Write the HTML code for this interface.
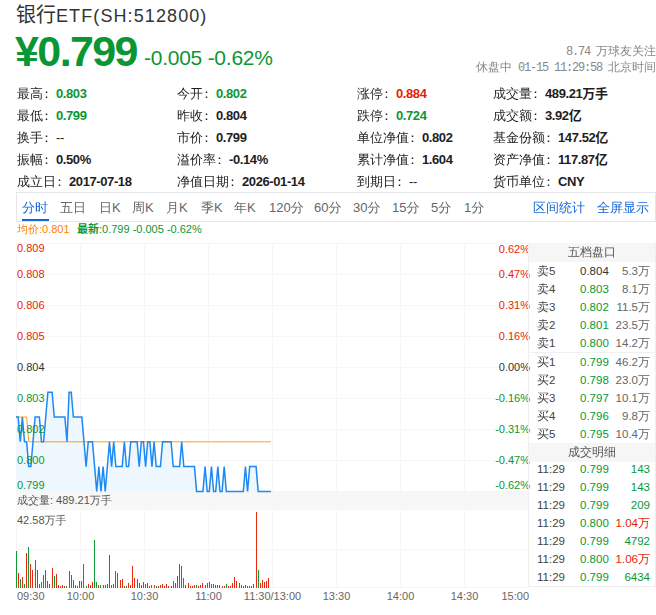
<!DOCTYPE html>
<html lang="zh-CN">
<head>
<meta charset="utf-8">
<title>银行ETF(SH:512800)</title>
<style>
*{margin:0;padding:0;box-sizing:border-box}
html,body{width:656px;height:615px;overflow:hidden;background:#fff}
body{position:relative;font-family:"Liberation Sans","WenQuanYi Zen Hei",sans-serif;color:#333;font-size:12px}
.a{position:absolute;white-space:nowrap;line-height:1}
.title{left:16px;top:5px;font-size:20px;color:#333;font-family:"Liberation Sans","Noto Sans CJK SC",sans-serif}
.price{left:15px;top:30px;font-size:43px;font-weight:bold;color:#0b9634;letter-spacing:-1.6px}
.chg{left:144px;top:47px;font-size:21px;color:#0b9634;letter-spacing:-0.25px}
.fol{right:0px;top:45px;font-size:12px;color:#888}
.st{right:0px;top:61px;font-size:12px;color:#888}
.mono{font-family:"Liberation Mono","WenQuanYi Zen Hei",monospace;font-size:12px;letter-spacing:-1.2px}
.g{color:#0b9634}.r{color:#e61e05}
.row{font-size:13px;color:#1e1e1e}
.row i{font-style:normal;position:relative;left:-3px;font-weight:bold}
.row b{font-family:"Liberation Sans","Noto Sans CJK SC",sans-serif;font-weight:bold;font-size:13px;letter-spacing:-0.4px}
.tabs{left:16px;top:192px;width:640px;height:30px;border:1px solid #e4e6ea}
.tab{top:201px;font-size:13px;color:#666}
.tab.on{color:#1565d8}
.ul{left:22px;top:219px;width:27px;height:2px;background:#1565d8}
.lg{top:224px;font-size:11px}
.lg b{font-family:"Liberation Sans","Noto Sans CJK SC",sans-serif}
.pn{left:528px;top:243px;width:128px;height:344px;border-left:1px solid #efefef;border-right:1px solid #efefef;border-bottom:1px solid #ececec}
.ph{left:529px;width:126px;height:19px;background:#f6f6f6;color:#555;font-size:12px;text-align:center;line-height:19px}
.pr{left:530px;width:126px;height:18px;font-size:11.5px;color:#444}
.pr i{font-style:normal;font-size:12px}
.pr span{position:absolute;top:3px;line-height:12px}
.pr .l{left:7px}
.pr .p{left:50px}
.pr .v{right:6px;color:#666}
.pr .v.g{color:#0b9634}.pr .v.r{color:#e61e05}
</style>
</head>
<body>
<div class="a title">银行<span style="font-size:18px;letter-spacing:1.1px">ETF(SH:512800)</span></div>
<div class="a price">¥0.799</div>
<div class="a chg">-0.005 -0.62%</div>
<div class="a fol"><span class="mono">8.74 </span>万球友关注</div>
<div class="a st">休盘中<span class="mono"> 01-15 11:29:58 </span>北京时间</div>

<div class="a row" style="left:17px;top:87px">最高<i>：</i><b class="g">0.803</b></div>
<div class="a row" style="left:177px;top:87px">今开<i>：</i><b class="g">0.802</b></div>
<div class="a row" style="left:357px;top:87px">涨停<i>：</i><b class="r">0.884</b></div>
<div class="a row" style="left:493px;top:87px">成交量<i>：</i><b>489.21万手</b></div>

<div class="a row" style="left:17px;top:109px">最低<i>：</i><b class="g">0.799</b></div>
<div class="a row" style="left:177px;top:109px">昨收<i>：</i><b>0.804</b></div>
<div class="a row" style="left:357px;top:109px">跌停<i>：</i><b class="g">0.724</b></div>
<div class="a row" style="left:493px;top:109px">成交额<i>：</i><b>3.92亿</b></div>

<div class="a row" style="left:17px;top:131px">换手<i>：</i><b style="font-weight:normal">--</b></div>
<div class="a row" style="left:177px;top:131px">市价<i>：</i><b>0.799</b></div>
<div class="a row" style="left:357px;top:131px">单位净值<i>：</i><b>0.802</b></div>
<div class="a row" style="left:493px;top:131px">基金份额<i>：</i><b>147.52亿</b></div>

<div class="a row" style="left:17px;top:153px">振幅<i>：</i><b>0.50%</b></div>
<div class="a row" style="left:177px;top:153px">溢价率<i>：</i><b>-0.14%</b></div>
<div class="a row" style="left:357px;top:153px">累计净值<i>：</i><b>1.604</b></div>
<div class="a row" style="left:493px;top:153px">资产净值<i>：</i><b>117.87亿</b></div>

<div class="a row" style="left:17px;top:175px">成立日<i>：</i><b>2017-07-18</b></div>
<div class="a row" style="left:177px;top:175px">净值日期<i>：</i><b>2026-01-14</b></div>
<div class="a row" style="left:357px;top:175px">到期日<i>：</i><b style="font-weight:normal">--</b></div>
<div class="a row" style="left:493px;top:175px">货币单位<i>：</i><b>CNY</b></div>

<div class="a tabs"></div>
<div class="a tab on" style="left:22px">分时</div>
<div class="a tab" style="left:60px">五日</div>
<div class="a tab" style="left:99px">日K</div>
<div class="a tab" style="left:132px">周K</div>
<div class="a tab" style="left:166px">月K</div>
<div class="a tab" style="left:201px">季K</div>
<div class="a tab" style="left:234px">年K</div>
<div class="a tab" style="left:269px">120分</div>
<div class="a tab" style="left:314px">60分</div>
<div class="a tab" style="left:353px">30分</div>
<div class="a tab" style="left:392px">15分</div>
<div class="a tab" style="left:431px">5分</div>
<div class="a tab" style="left:464px">1分</div>
<div class="a tab on" style="left:533px">区间统计</div>
<div class="a tab on" style="left:597px">全屏显示</div>
<div class="a ul"></div>

<div class="a lg" style="left:17px;color:#ff8000">均价:0.801</div>
<div class="a lg g" style="left:77px"><b>最新</b>:0.799 -0.005 -0.62%</div>

<svg class="a" style="left:0;top:0" width="656" height="615" viewBox="0 0 656 615">
<g stroke="#f6f6f6" stroke-width="1" fill="none" shape-rendering="crispEdges">
<path d="M16,243.5H528M16,274.5H528M16,305.5H528M16,336.5H528M16,367.5H528M16,398.5H528M16,429.5H528M16,460.5H528"/>
<path d="M16.5,243V491M80.5,243V491M144.5,243V491M208.5,243V491M272.5,243V491M336.5,243V491M400.5,243V491M464.5,243V491"/>
<path d="M16,549.5H528M16,587.5H528"/>
<path d="M16.5,510V588M80.5,510V588M144.5,510V588M208.5,510V588M272.5,510V588M336.5,510V588M400.5,510V588M464.5,510V588"/>
</g>
<rect x="16" y="491" width="512" height="19" fill="#f7f7f7"/>
<path d="M16.00,491 L16.00,417.0 L18.12,417.0 L20.25,441.8 L22.37,417.0 L24.50,441.8 L26.62,441.8 L28.75,466.6 L30.87,466.6 L33.00,441.8 L35.12,417.0 L37.24,417.0 L39.37,417.0 L41.49,441.8 L43.62,441.8 L45.74,417.0 L47.87,392.2 L49.99,392.2 L52.12,392.2 L54.24,417.0 L56.37,417.0 L58.49,417.0 L60.61,417.0 L62.74,417.0 L64.86,417.0 L66.99,441.8 L69.11,392.2 L71.24,392.2 L73.36,417.0 L75.49,417.0 L77.61,417.0 L79.73,417.0 L81.86,417.0 L83.98,441.8 L86.11,466.6 L88.23,441.8 L90.36,441.8 L92.48,441.8 L94.61,466.6 L96.73,491.4 L98.85,466.6 L100.98,491.4 L103.10,466.6 L105.23,491.4 L107.35,466.6 L109.48,441.8 L111.60,466.6 L113.73,441.8 L115.85,466.6 L117.98,466.6 L120.10,466.6 L122.22,466.6 L124.35,441.8 L126.47,466.6 L128.60,466.6 L130.72,441.8 L132.85,441.8 L134.97,441.8 L137.10,441.8 L139.22,466.6 L141.34,441.8 L143.47,441.8 L145.59,466.6 L147.72,441.8 L149.84,441.8 L151.97,466.6 L154.09,441.8 L156.22,466.6 L158.34,466.6 L160.46,466.6 L162.59,441.8 L164.71,441.8 L166.84,441.8 L168.96,441.8 L171.09,441.8 L173.21,466.6 L175.34,466.6 L177.46,466.6 L179.59,466.6 L181.71,441.8 L183.83,466.6 L185.96,466.6 L188.08,466.6 L190.21,466.6 L192.33,466.6 L194.46,466.6 L196.58,491.4 L198.71,491.4 L200.83,491.4 L202.95,491.4 L205.08,466.6 L207.20,491.4 L209.33,491.4 L211.45,466.6 L213.58,491.4 L215.70,491.4 L217.83,466.6 L219.95,491.4 L222.07,491.4 L224.20,466.6 L226.32,491.4 L228.45,491.4 L230.57,491.4 L232.70,491.4 L234.82,491.4 L236.95,491.4 L239.07,491.4 L241.20,491.4 L243.32,491.4 L245.44,466.6 L247.57,491.4 L249.69,466.6 L251.82,466.6 L253.94,466.6 L256.07,466.6 L258.19,491.4 L260.32,491.4 L262.44,491.4 L264.56,491.4 L266.69,491.4 L268.81,491.4 L270.94,491.4 L270.94,491 Z" fill="#eef6fe"/>
<polyline points="16.00,417.0 18.12,417.0 20.25,417.0 22.37,417.0 24.50,417.0 26.62,417.0 28.75,441.8 30.87,441.8 33.00,441.8 35.12,441.8 37.24,441.8 39.37,441.8 41.49,441.8 43.62,441.8 45.74,441.8 47.87,441.8 49.99,441.8 52.12,441.8 54.24,441.8 56.37,441.8 58.49,441.8 60.61,441.8 62.74,441.8 64.86,441.8 66.99,441.8 69.11,441.8 71.24,441.8 73.36,441.8 75.49,441.8 77.61,441.8 79.73,441.8 81.86,441.8 83.98,441.8 86.11,441.8 88.23,441.8 90.36,441.8 92.48,441.8 94.61,441.8 96.73,441.8 98.85,441.8 100.98,441.8 103.10,441.8 105.23,441.8 107.35,441.8 109.48,441.8 111.60,441.8 113.73,441.8 115.85,441.8 117.98,441.8 120.10,441.8 122.22,441.8 124.35,441.8 126.47,441.8 128.60,441.8 130.72,441.8 132.85,441.8 134.97,441.8 137.10,441.8 139.22,441.8 141.34,441.8 143.47,441.8 145.59,441.8 147.72,441.8 149.84,441.8 151.97,441.8 154.09,441.8 156.22,441.8 158.34,441.8 160.46,441.8 162.59,441.8 164.71,441.8 166.84,441.8 168.96,441.8 171.09,441.8 173.21,441.8 175.34,441.8 177.46,441.8 179.59,441.8 181.71,441.8 183.83,441.8 185.96,441.8 188.08,441.8 190.21,441.8 192.33,441.8 194.46,441.8 196.58,441.8 198.71,441.8 200.83,441.8 202.95,441.8 205.08,441.8 207.20,441.8 209.33,441.8 211.45,441.8 213.58,441.8 215.70,441.8 217.83,441.8 219.95,441.8 222.07,441.8 224.20,441.8 226.32,441.8 228.45,441.8 230.57,441.8 232.70,441.8 234.82,441.8 236.95,441.8 239.07,441.8 241.20,441.8 243.32,441.8 245.44,441.8 247.57,441.8 249.69,441.8 251.82,441.8 253.94,441.8 256.07,441.8 258.19,441.8 260.32,441.8 262.44,441.8 264.56,441.8 266.69,441.8 268.81,441.8 270.94,441.8" fill="none" stroke="#ff9a10" stroke-width="1"/>
<polyline points="16.00,417.0 18.12,417.0 20.25,441.8 22.37,417.0 24.50,441.8 26.62,441.8 28.75,466.6 30.87,466.6 33.00,441.8 35.12,417.0 37.24,417.0 39.37,417.0 41.49,441.8 43.62,441.8 45.74,417.0 47.87,392.2 49.99,392.2 52.12,392.2 54.24,417.0 56.37,417.0 58.49,417.0 60.61,417.0 62.74,417.0 64.86,417.0 66.99,441.8 69.11,392.2 71.24,392.2 73.36,417.0 75.49,417.0 77.61,417.0 79.73,417.0 81.86,417.0 83.98,441.8 86.11,466.6 88.23,441.8 90.36,441.8 92.48,441.8 94.61,466.6 96.73,491.4 98.85,466.6 100.98,491.4 103.10,466.6 105.23,491.4 107.35,466.6 109.48,441.8 111.60,466.6 113.73,441.8 115.85,466.6 117.98,466.6 120.10,466.6 122.22,466.6 124.35,441.8 126.47,466.6 128.60,466.6 130.72,441.8 132.85,441.8 134.97,441.8 137.10,441.8 139.22,466.6 141.34,441.8 143.47,441.8 145.59,466.6 147.72,441.8 149.84,441.8 151.97,466.6 154.09,441.8 156.22,466.6 158.34,466.6 160.46,466.6 162.59,441.8 164.71,441.8 166.84,441.8 168.96,441.8 171.09,441.8 173.21,466.6 175.34,466.6 177.46,466.6 179.59,466.6 181.71,441.8 183.83,466.6 185.96,466.6 188.08,466.6 190.21,466.6 192.33,466.6 194.46,466.6 196.58,491.4 198.71,491.4 200.83,491.4 202.95,491.4 205.08,466.6 207.20,491.4 209.33,491.4 211.45,466.6 213.58,491.4 215.70,491.4 217.83,466.6 219.95,491.4 222.07,491.4 224.20,466.6 226.32,491.4 228.45,491.4 230.57,491.4 232.70,491.4 234.82,491.4 236.95,491.4 239.07,491.4 241.20,491.4 243.32,491.4 245.44,466.6 247.57,491.4 249.69,466.6 251.82,466.6 253.94,466.6 256.07,466.6 258.19,491.4 260.32,491.4 262.44,491.4 264.56,491.4 266.69,491.4 268.81,491.4 270.94,491.4" fill="none" stroke="#1d89f3" stroke-width="1.5" stroke-linejoin="miter"/>
<path d="M18.5,588v-15M22.5,588v-11M26.5,588v-35M30.5,588v-24M32.5,588v-18M35.5,588v-28M37.5,588v-18M39.5,588v-4M43.5,588v-13M45.5,588v-18M47.5,588v-7M49.5,588v-4M52.5,588v-20M56.5,588v-14M58.5,588v-3M60.5,588v-2M62.5,588v-3M64.5,588v-2M69.5,588v-17M71.5,588v-13M75.5,588v-3M77.5,588v-2M79.5,588v-7M81.5,588v-7M88.5,588v-4M90.5,588v-3M92.5,588v-6M98.5,588v-3M103.5,588v-3M107.5,588v-4M109.5,588v-33M113.5,588v-4M117.5,588v-15M120.5,588v-8M122.5,588v-9M124.5,588v-2M128.5,588v-5M130.5,588v-3M132.5,588v-22M134.5,588v-10M137.5,588v-9M141.5,588v-3M143.5,588v-6M147.5,588v-5M149.5,588v-2M154.5,588v-3M158.5,588v-2M160.5,588v-3M162.5,588v-4M164.5,588v-2M166.5,588v-4M168.5,588v-2M171.5,588v-2M175.5,588v-5M177.5,588v-12M179.5,588v-24M181.5,588v-22M185.5,588v-3M188.5,588v-5M190.5,588v-2M192.5,588v-2M194.5,588v-3M198.5,588v-2M200.5,588v-3M202.5,588v-5M205.5,588v-3M209.5,588v-6M211.5,588v-4M215.5,588v-3M217.5,588v-3M222.5,588v-2M224.5,588v-2M228.5,588v-2M230.5,588v-2M232.5,588v-5M234.5,588v-11M236.5,588v-7M239.5,588v-5M241.5,588v-3M243.5,588v-2M245.5,588v-3M249.5,588v-2M251.5,588v-2M253.5,588v-4M256.5,588v-76M260.5,588v-5M262.5,588v-8M264.5,588v-6M266.5,588v-7M268.5,588v-10" stroke="#e62a10" stroke-width="1" shape-rendering="crispEdges"/>
<path d="M16.5,588v-37M20.5,588v-9M24.5,588v-4M28.5,588v-41M41.5,588v-6M54.5,588v-12M66.5,588v-2M73.5,588v-8M83.5,588v-24M86.5,588v-2M94.5,588v-48M96.5,588v-6M100.5,588v-3M105.5,588v-3M111.5,588v-3M115.5,588v-17M126.5,588v-2M139.5,588v-5M145.5,588v-4M151.5,588v-3M156.5,588v-2M173.5,588v-7M183.5,588v-10M196.5,588v-3M207.5,588v-5M213.5,588v-4M219.5,588v-3M226.5,588v-4M247.5,588v-2M258.5,588v-18" stroke="#109a36" stroke-width="1" shape-rendering="crispEdges"/>
<g font-family="Liberation Sans, sans-serif" font-size="11">
<text x="17" y="252" fill="#e61e05">0.809</text>
<text x="17" y="278" fill="#e61e05">0.808</text>
<text x="17" y="309" fill="#e61e05">0.806</text>
<text x="17" y="340" fill="#e61e05">0.805</text>
<text x="17" y="371" fill="#333">0.804</text>
<text x="17" y="402" fill="#0b9634">0.803</text>
<text x="17" y="433" fill="#0b9634">0.802</text>
<text x="17" y="464" fill="#0b9634">0.800</text>
<text x="17" y="489" fill="#0b9634">0.799</text>
</g>
<g font-family="Liberation Sans, sans-serif" font-size="11" text-anchor="end">
<text x="530" y="253" fill="#e61e05">0.62%</text>
<text x="530" y="278" fill="#e61e05">0.47%</text>
<text x="530" y="309" fill="#e61e05">0.31%</text>
<text x="530" y="340" fill="#e61e05">0.16%</text>
<text x="530" y="371" fill="#333">0.00%</text>
<text x="530" y="402" fill="#0b9634">-0.16%</text>
<text x="530" y="433" fill="#0b9634">-0.31%</text>
<text x="530" y="464" fill="#0b9634">-0.47%</text>
<text x="530" y="489" fill="#0b9634">-0.62%</text>
</g>
<g font-family="Liberation Sans, WenQuanYi Zen Hei, sans-serif" font-size="11" fill="#555">
<text x="17" y="504">成交量: 489.21万手</text>
<text x="17" y="524">42.58万手</text>
</g>
<g font-family="Liberation Sans, sans-serif" font-size="11" fill="#666" text-anchor="middle">
<text x="17" y="600" text-anchor="start">09:30</text>
<text x="80.5" y="600">10:00</text>
<text x="144.5" y="600">10:30</text>
<text x="208.5" y="600">11:00</text>
<text x="272.5" y="600">11:30/13:00</text>
<text x="336.5" y="600">13:30</text>
<text x="400.5" y="600">14:00</text>
<text x="464.5" y="600">14:30</text>
<text x="529" y="600" text-anchor="end">15:00</text>
</g>
</svg>

<div class="a pn"></div>
<div class="a ph" style="top:243px">五档盘口</div>
<div class="a pr" style="top:262px"><span class="l"><i>卖</i>5</span><span class="p" style="color:#333">0.804</span><span class="v">5.3<i>万</i></span></div>
<div class="a pr" style="top:280px"><span class="l"><i>卖</i>4</span><span class="p g">0.803</span><span class="v">8.1<i>万</i></span></div>
<div class="a pr" style="top:298px"><span class="l"><i>卖</i>3</span><span class="p g">0.802</span><span class="v">11.5<i>万</i></span></div>
<div class="a pr" style="top:316px"><span class="l"><i>卖</i>2</span><span class="p g">0.801</span><span class="v">23.5<i>万</i></span></div>
<div class="a pr" style="top:334px"><span class="l"><i>卖</i>1</span><span class="p g">0.800</span><span class="v">14.2<i>万</i></span></div>
<div class="a" style="left:530px;top:352px;width:126px;height:1px;background:#f0f0f0"></div>
<div class="a pr" style="top:353px"><span class="l"><i>买</i>1</span><span class="p g">0.799</span><span class="v">46.2<i>万</i></span></div>
<div class="a pr" style="top:371px"><span class="l"><i>买</i>2</span><span class="p g">0.798</span><span class="v">23.0<i>万</i></span></div>
<div class="a pr" style="top:389px"><span class="l"><i>买</i>3</span><span class="p g">0.797</span><span class="v">10.1<i>万</i></span></div>
<div class="a pr" style="top:407px"><span class="l"><i>买</i>4</span><span class="p g">0.796</span><span class="v">9.8<i>万</i></span></div>
<div class="a pr" style="top:425px"><span class="l"><i>买</i>5</span><span class="p g">0.795</span><span class="v">10.4<i>万</i></span></div>
<div class="a ph" style="top:443px">成交明细</div>
<div class="a pr" style="top:460px"><span class="l">11:29</span><span class="p g">0.799</span><span class="v g">143</span></div>
<div class="a pr" style="top:478px"><span class="l">11:29</span><span class="p g">0.799</span><span class="v g">143</span></div>
<div class="a pr" style="top:496px"><span class="l">11:29</span><span class="p g">0.799</span><span class="v g">209</span></div>
<div class="a pr" style="top:514px"><span class="l">11:29</span><span class="p g">0.800</span><span class="v r">1.04<i>万</i></span></div>
<div class="a pr" style="top:532px"><span class="l">11:29</span><span class="p g">0.799</span><span class="v g">4792</span></div>
<div class="a pr" style="top:550px"><span class="l">11:29</span><span class="p g">0.800</span><span class="v r">1.06<i>万</i></span></div>
<div class="a pr" style="top:568px"><span class="l">11:29</span><span class="p g">0.799</span><span class="v g">6434</span></div>
</body>
</html>
